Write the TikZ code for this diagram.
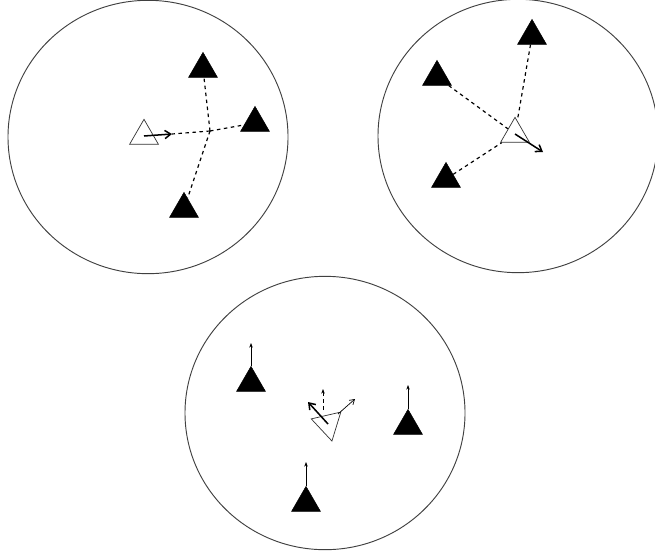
\documentclass[tikz,border=0pt]{standalone}
\usepackage{tikz}
\usetikzlibrary{shapes.geometric,arrows.meta}

\begin{document}
\begin{tikzpicture}[x=0.03cm, y=-0.03cm,
    robot/.style={regular polygon, regular polygon sides=3, draw, fill=black, inner sep=0pt, minimum size=1.0cm},
    leader/.style={regular polygon, regular polygon sides=3, draw=black!80, fill=white, line width=0.6pt, inner sep=0pt, minimum size=1.0cm},
    zone/.style={draw=black!75, line width=0.8pt},
    link/.style={dashed, line width=1pt},
    move/.style={-{Straight Barb[length=5pt, width=7pt]}, line width=1.3pt},
    drift/.style={-{Straight Barb[length=4pt, width=5pt]}, line width=0.6pt},
    pull/.style={-{Stealth[length=4pt, width=3pt]}, line width=0.5pt}]
    \useasboundingbox (0,0) rectangle (655,556);

    % the three areas
    \coordinate (z1) at (148,137);
    \coordinate (z2) at (518,136);
    \coordinate (z3) at (325,413);
    \draw[zone] (z1) ellipse [x radius=4.2cm, y radius=4.1cm];
    \draw[zone] (z2) ellipse [x radius=4.2cm, y radius=4.1cm];
    \draw[zone] (z3) ellipse [x radius=4.2cm, y radius=4.1cm];

    % first area
    \node[robot] (a1) at (203,69) {};
    \node[robot] (b1) at (255,123) {};
    \node[robot] (c1) at (184,209) {};
    \node[leader] (l1) at (144,136) {};
    \coordinate (j1) at (210,131);
    \coordinate (h1) at (172,134);
    \draw[link] (j1) -- (a1);
    \draw[link] (j1) -- (b1);
    \draw[link] (j1) -- (c1);
    \draw[link] (j1) -- (h1);
    \draw[move] (l1.center) -- (h1);

    % second area
    \node[robot] (a2) at (532,36) {};
    \node[robot] (b2) at (437,77) {};
    \node[robot] (c2) at (446,179) {};
    \node[leader] (l2) at (515,134) {};
    \coordinate (h2) at (543,152);
    \draw[link] (a2) -- (l2);
    \draw[link] (b2) -- (l2);
    \draw[link] (c2) -- (l2);
    \draw[move] (l2.center) -- (h2);

    % third area
    \node[robot] (a3) at (251,383) {};
    \node[robot] (b3) at (408,426) {};
    \node[robot] (c3) at (306,503) {};
    \node[leader, minimum size=1.05cm, shape border rotate=193] (l3) at (328,424) {};
    \coordinate (u3) at (251,343);
    \coordinate (v3) at (408,385);
    \coordinate (w3) at (306,462);
    \draw[pull] (a3.north) -- (u3);
    \draw[pull] (b3.north) -- (v3);
    \draw[pull] (c3.north) -- (w3);
    \coordinate (h3) at (308,402);
    \coordinate (p3) at (323,410);
    \coordinate (q3) at (323,389);
    \coordinate (r3) at (338,414);
    \coordinate (s3) at (355,399);
    \draw[move] (l3.center) -- (h3);
    \draw[pull, dashed] (p3) -- (q3);
    \draw[drift] (r3) -- (s3);
\end{tikzpicture}
\end{document}
